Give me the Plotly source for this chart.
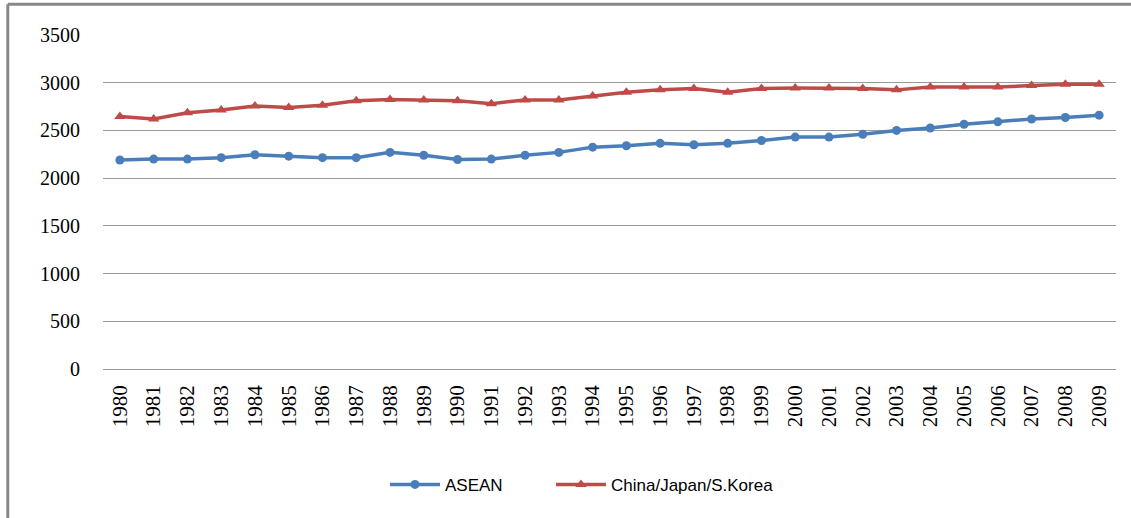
import plotly.graph_objects as go

years = [str(y) for y in range(1980, 2010)]
asean = [2190, 2200, 2200, 2215, 2245, 2230, 2215, 2215, 2270, 2240,
         2195, 2200, 2240, 2270, 2325, 2340, 2365, 2350, 2365, 2395,
         2430, 2430, 2460, 2500, 2525, 2565, 2590, 2620, 2635, 2660]
cjk = [2645, 2620, 2685, 2715, 2755, 2740, 2765, 2810, 2825, 2820,
       2810, 2780, 2820, 2820, 2860, 2900, 2925, 2940, 2900, 2940,
       2945, 2945, 2940, 2925, 2955, 2955, 2955, 2970, 2985, 2985]
y_ticks = [0, 500, 1000, 1500, 2000, 2500, 3000, 3500]

fig = go.Figure()
fig.add_trace(go.Scatter(x=years, y=asean, name="ASEAN", mode="lines+markers",
                         line=dict(color="#4A7EBB", width=3.5),
                         marker=dict(symbol="circle", size=9, color="#4A7EBB"),
                         legend="legend"))
fig.add_trace(go.Scatter(x=years, y=cjk, name="China/Japan/S.Korea", mode="lines+markers",
                         line=dict(color="#BE4B48", width=3.5),
                         marker=dict(symbol="triangle-up", size=10, color="#BE4B48"),
                         legend="legend2"))

leg_font = dict(family="Liberation Sans, Arial, sans-serif", size=17, color="#000")
fig.update_layout(
    width=1131, height=518,
    margin=dict(l=103, r=15, t=35, b=149, autoexpand=False),
    paper_bgcolor="white", plot_bgcolor="white",
    showlegend=True,
    legend=dict(orientation="h", x=385 / 1131, xanchor="left", xref="container",
                y=0.064, yanchor="middle", yref="container",
                font=leg_font, itemwidth=50, bgcolor="rgba(0,0,0,0)"),
    legend2=dict(orientation="h", x=551 / 1131, xanchor="left", xref="container",
                 y=0.064, yanchor="middle", yref="container",
                 font=leg_font, itemwidth=50, bgcolor="rgba(0,0,0,0)"),
    xaxis=dict(type="category", range=[-0.5, 29.5], showgrid=False, showline=False, ticks="",
               tickangle=-90, tickfont=dict(family="Liberation Serif, serif", size=21, color="#000"),
               ticklabelstandoff=11, automargin=False),
    yaxis=dict(range=[0, 3500], tickvals=y_ticks, showgrid=True, gridcolor="#9a9a9a", gridwidth=1,
               zeroline=True, zerolinecolor="#9a9a9a", zerolinewidth=1, showline=False,
               ticks="", tickfont=dict(family="Liberation Serif, serif", size=20, color="#000"),
               ticklabelstandoff=22, automargin=False),
    shapes=[
        dict(type="line", xref="paper", yref="paper", x0=-0.094, x1=1.02, y0=1.092, y1=1.092,
             line=dict(color="#888", width=3)),
        dict(type="line", xref="paper", yref="paper", x0=-0.094, x1=-0.094, y0=1.092, y1=-0.5,
             line=dict(color="#888", width=3)),
    ],
)
fig.write_html("out.html", config={"displayModeBar": False},
               post_script="document.body.style.margin='0';")
